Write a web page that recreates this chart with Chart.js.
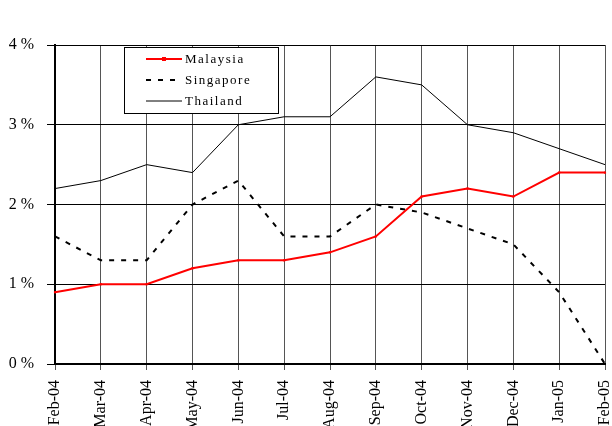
<!DOCTYPE html>
<html>
<head>
<meta charset="utf-8">
<script src="https://cdn.jsdelivr.net/npm/chart.js@4"></script>
<style>
  html, body { margin: 0; padding: 0; background: #fff; }
  #wrap { width: 612px; height: 426px; }
</style>
</head>
<body>
<div id="wrap"><canvas id="inflChart" width="612" height="426"></canvas></div>
<script>
// Chart data
const months = ['Feb-04', 'Mar-04', 'Apr-04', 'May-04', 'Jun-04', 'Jul-04', 'Aug-04',
                'Sep-04', 'Oct-04', 'Nov-04', 'Dec-04', 'Jan-05', 'Feb-05'];
const malaysia  = [0.9, 1.0, 1.0, 1.2, 1.3, 1.3, 1.4, 1.6, 2.1, 2.2, 2.1, 2.4, 2.4];
const singapore = [1.6, 1.3, 1.3, 2.0, 2.3, 1.6, 1.6, 2.0, 1.9, 1.7, 1.5, 0.9, 0.0];
const thailand  = [2.2, 2.3, 2.5, 2.4, 3.0, 3.1, 3.1, 3.6, 3.5, 3.0, 2.9, 2.7, 2.5];
const yTicks = [0, 1, 2, 3, 4];

const serif = "'Liberation Serif', 'Times New Roman', serif";

// Legend box drawn inside the plot area
const boxLegend = {
    id: 'boxLegend',
    afterDraw(chart) {
        const ctx = chart.ctx;
        const x = 124, y = 47, w = 154, h = 66;
        ctx.save();
        ctx.fillStyle = '#fff';
        ctx.fillRect(x, y, w, h);
        ctx.strokeStyle = '#000';
        ctx.lineWidth = 1;
        ctx.strokeRect(x + 0.5, y + 0.5, w, h);
        ctx.font = '13px ' + serif;
        ctx.textBaseline = 'middle';
        ctx.letterSpacing = '1.5px';
        chart.data.datasets.forEach((ds, i) => {
            const ly = y + 12 + i * 21;
            ctx.beginPath();
            ctx.strokeStyle = ds.borderColor;
            ctx.lineWidth = ds.borderWidth;
            ctx.setLineDash(ds.borderDash || []);
            ctx.moveTo(146, ly);
            ctx.lineTo(182, ly);
            ctx.stroke();
            ctx.setLineDash([]);
            if (ds.pointRadius) {
                ctx.fillStyle = ds.borderColor;
                ctx.fillRect(162, ly - 2, 4, 4);
            }
            ctx.fillStyle = '#000';
            ctx.fillText(ds.label, 185, ly + 1);
        });
        ctx.restore();
    }
};

const ctx = document.getElementById('inflChart').getContext('2d');
const inflChart = new Chart(ctx, {
    type: 'line',
    data: {
        labels: months,
        datasets: [
            { label: 'Malaysia', data: malaysia, borderColor: '#ff0000', borderWidth: 2,
              pointRadius: 1.5, pointStyle: 'rect', pointBackgroundColor: '#ff0000',
              pointBorderWidth: 0, tension: 0 },
            { label: 'Singapore', data: singapore, borderColor: '#000', borderWidth: 2,
              borderDash: [5, 7], pointRadius: 0, tension: 0 },
            { label: 'Thailand', data: thailand, borderColor: '#000', borderWidth: 1,
              pointRadius: 0, tension: 0 }
        ]
    },
    options: {
        responsive: false,
        animation: false,
        layout: { padding: { top: 45, right: 7, left: 0, bottom: 0 } },
        plugins: {
            legend: { display: false },
            tooltip: { enabled: false }
        },
        scales: {
            x: {
                offset: false,
                grid: { color: '#555', lineWidth: 1, tickLength: 6 },
                border: { color: '#000', width: 2 },
                ticks: {
                    color: '#000', font: { family: serif, size: 16 },
                    maxRotation: 90, minRotation: 90, autoSkip: false, padding: 10
                },
                afterFit(scale) {
                    scale.height = 62;
                    scale.paddingLeft = 0;
                    scale.paddingRight = 0;
                }
            },
            y: {
                min: 0, max: 4,
                afterBuildTicks(scale) { scale.ticks = yTicks.map(v => ({ value: v })); },
                grid: { color: '#000', lineWidth: 1, tickLength: 8 },
                border: { color: '#000', width: 2 },
                ticks: {
                    color: '#000', font: { family: serif, size: 16 }, padding: 13,
                    callback: v => v + ' %'
                },
                afterFit(scale) {
                    scale.width = 55;
                    scale.paddingTop = 0;
                    scale.paddingBottom = 0;
                }
            }
        }
    },
    plugins: [boxLegend]
});
</script>
</body>
</html>
